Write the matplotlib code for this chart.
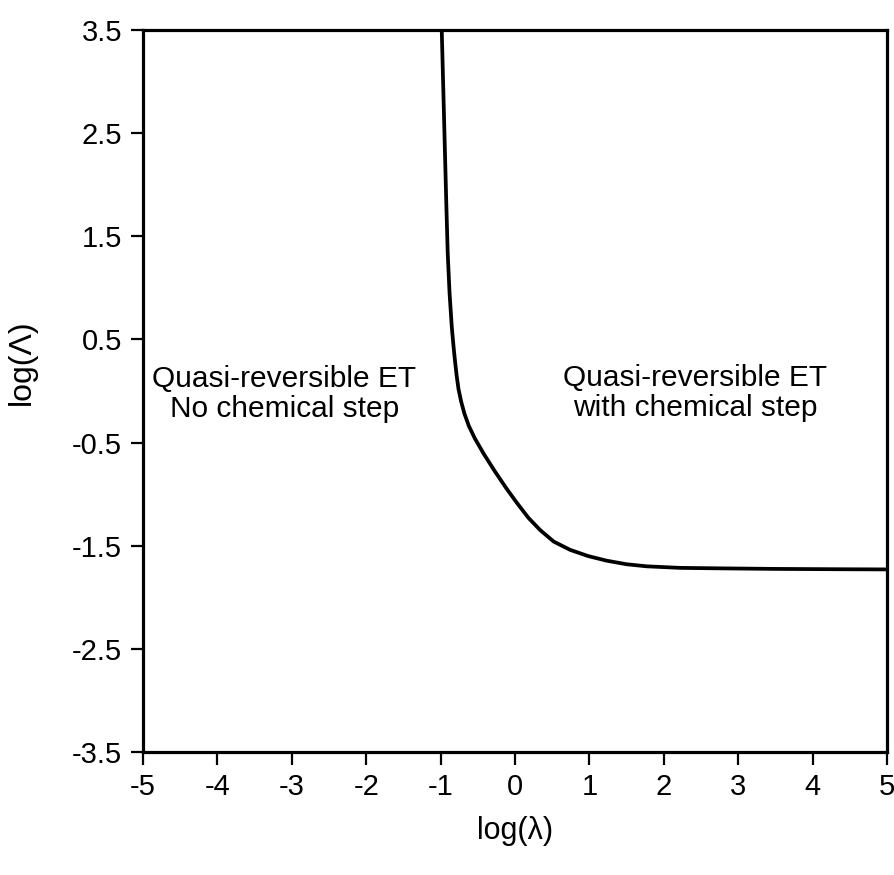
"""
Zone diagram: quasi-reversible ET with / without chemical step
"""

import matplotlib
matplotlib.use('Agg')
import numpy as np
from matplotlib import pyplot as plt

# --------------------------------------------------------------------------------------------------
# Data
# --------------------------------------------------------------------------------------------------

log_lam = [-0.985, -0.965, -0.945, -0.925, -0.905, -0.88, -0.85, -0.825, -0.805, -0.785, -0.76,
           -0.725, -0.68, -0.62, -0.54, -0.42, -0.27, -0.12, 0.02, 0.18, 0.34, 0.52, 0.74,
           0.98, 1.23, 1.50, 1.77, 2.22, 2.80, 3.50, 4.30, 5.0]
log_Lam = [3.50, 2.95, 2.40, 1.85, 1.34, 0.95, 0.62, 0.42, 0.28, 0.15, 0.02,
           -0.10, -0.22, -0.34, -0.46, -0.61, -0.78, -0.94, -1.08, -1.23, -1.35, -1.46, -1.54,
           -1.60, -1.645, -1.68, -1.70, -1.715, -1.72, -1.725, -1.728, -1.73]

x_ticks = [-5, -4, -3, -2, -1, 0, 1, 2, 3, 4, 5]
y_ticks = [-3.5, -2.5, -1.5, -0.5, 0.5, 1.5, 2.5, 3.5]

zone_left = 'Quasi-reversible ET\nNo chemical step'
zone_right = 'Quasi-reversible ET\nwith chemical step'

# --------------------------------------------------------------------------------------------------
# Plot
# --------------------------------------------------------------------------------------------------

plt.rcParams['font.family'] = ['Liberation Sans', 'DejaVu Sans']
plt.rcParams['axes.unicode_minus'] = False

fig = plt.figure(figsize=(8.95, 8.75), dpi=100)
ax = fig.add_axes([0.1598, 0.1406, 0.8313, 0.8251])

ax.plot(log_lam, log_Lam, color='black', lw=2.7, solid_capstyle='butt')

ax.set_xlim(-5, 5)
ax.set_ylim(-3.5, 3.5)
ax.set_xticks(x_ticks)
ax.set_yticks(y_ticks)
ax.set_xticklabels([str(t) for t in x_ticks])
ax.set_yticklabels([str(t) for t in y_ticks])

for s in ax.spines.values():
    s.set_linewidth(2.3)
ax.tick_params(direction='out', length=9, width=1.6, labelsize=21, pad=6)

ax.text(-3.1, -0.03, zone_left, ha='center', va='center', fontsize=21.5, linespacing=1.12)
ax.text(2.42, -0.02, zone_right, ha='center', va='center', fontsize=21.5, linespacing=1.12)

ax.set_xlabel('log(λ)', fontsize=22)
ax.set_ylabel('log(Λ)', fontsize=23)
ax.xaxis.set_label_coords(0.5, -0.088)
ax.yaxis.set_label_coords(-0.142, 0.54)

fig.savefig('out.png', dpi=100)
